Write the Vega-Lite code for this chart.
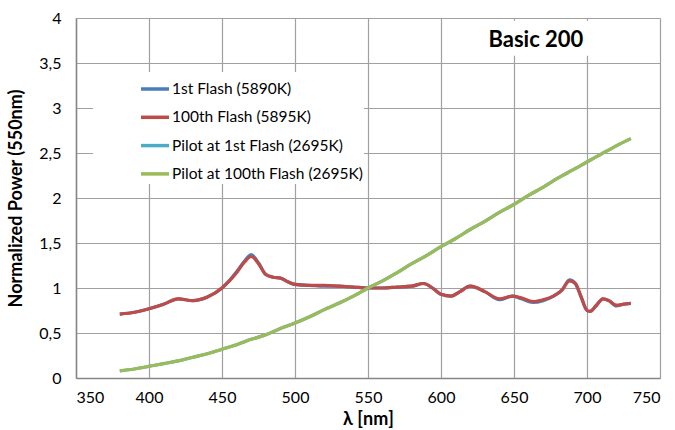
{
  "$schema": "https://vega.github.io/schema/vega-lite/v6.json",
  "width": 584,
  "height": 360,
  "autosize": {"type": "none"},
  "padding": {"left": 76, "top": 18, "right": 15, "bottom": 52},
  "background": "white",
  "config": {
    "font": "Lato",
    "view": {"stroke": null},
    "axis": {
      "labelFont": "Lato", "labelFontSize": 16, "labelColor": "#000",
      "titleFont": "Lato", "titleFontSize": 18, "titleFontWeight": "bold", "titleColor": "#000",
      "gridColor": "#a0a0a0", "gridWidth": 1.2, "domainColor": "#868686", "domainWidth": 1.5, "ticks": false
    }
  },
  "datasets": {
    "spectra": [
      {"l":380,"v":0.71,"s":"1st Flash (5890K)"},{"l":390,"v":0.73,"s":"1st Flash (5890K)"},{"l":400,"v":0.77,"s":"1st Flash (5890K)"},{"l":410,"v":0.82,"s":"1st Flash (5890K)"},{"l":420,"v":0.88,"s":"1st Flash (5890K)"},{"l":430,"v":0.86,"s":"1st Flash (5890K)"},{"l":440,"v":0.9,"s":"1st Flash (5890K)"},{"l":450,"v":1.0,"s":"1st Flash (5890K)"},{"l":460,"v":1.18,"s":"1st Flash (5890K)"},{"l":465,"v":1.29,"s":"1st Flash (5890K)"},{"l":470,"v":1.37,"s":"1st Flash (5890K)"},{"l":475,"v":1.28,"s":"1st Flash (5890K)"},{"l":480,"v":1.15,"s":"1st Flash (5890K)"},{"l":485,"v":1.12,"s":"1st Flash (5890K)"},{"l":490,"v":1.11,"s":"1st Flash (5890K)"},{"l":495,"v":1.07,"s":"1st Flash (5890K)"},{"l":500,"v":1.04,"s":"1st Flash (5890K)"},{"l":510,"v":1.03,"s":"1st Flash (5890K)"},{"l":520,"v":1.02,"s":"1st Flash (5890K)"},{"l":530,"v":1.02,"s":"1st Flash (5890K)"},{"l":540,"v":1.01,"s":"1st Flash (5890K)"},{"l":550,"v":1.0,"s":"1st Flash (5890K)"},{"l":560,"v":1.0,"s":"1st Flash (5890K)"},{"l":570,"v":1.01,"s":"1st Flash (5890K)"},{"l":580,"v":1.02,"s":"1st Flash (5890K)"},{"l":588,"v":1.05,"s":"1st Flash (5890K)"},{"l":595,"v":0.99,"s":"1st Flash (5890K)"},{"l":600,"v":0.93,"s":"1st Flash (5890K)"},{"l":607,"v":0.91,"s":"1st Flash (5890K)"},{"l":613,"v":0.96,"s":"1st Flash (5890K)"},{"l":620,"v":1.02,"s":"1st Flash (5890K)"},{"l":630,"v":0.96,"s":"1st Flash (5890K)"},{"l":640,"v":0.87,"s":"1st Flash (5890K)"},{"l":649,"v":0.91,"s":"1st Flash (5890K)"},{"l":655,"v":0.88,"s":"1st Flash (5890K)"},{"l":663,"v":0.84,"s":"1st Flash (5890K)"},{"l":670,"v":0.86,"s":"1st Flash (5890K)"},{"l":677,"v":0.91,"s":"1st Flash (5890K)"},{"l":683,"v":0.98,"s":"1st Flash (5890K)"},{"l":688,"v":1.09,"s":"1st Flash (5890K)"},{"l":692,"v":1.05,"s":"1st Flash (5890K)"},{"l":696,"v":0.9,"s":"1st Flash (5890K)"},{"l":700,"v":0.75,"s":"1st Flash (5890K)"},{"l":702,"v":0.74,"s":"1st Flash (5890K)"},{"l":706,"v":0.8,"s":"1st Flash (5890K)"},{"l":711,"v":0.88,"s":"1st Flash (5890K)"},{"l":715,"v":0.86,"s":"1st Flash (5890K)"},{"l":720,"v":0.8,"s":"1st Flash (5890K)"},{"l":725,"v":0.82,"s":"1st Flash (5890K)"},{"l":730,"v":0.83,"s":"1st Flash (5890K)"},

      {"l":380,"v":0.71,"s":"100th Flash (5895K)"},{"l":390,"v":0.73,"s":"100th Flash (5895K)"},{"l":400,"v":0.77,"s":"100th Flash (5895K)"},{"l":410,"v":0.82,"s":"100th Flash (5895K)"},{"l":420,"v":0.88,"s":"100th Flash (5895K)"},{"l":430,"v":0.86,"s":"100th Flash (5895K)"},{"l":440,"v":0.9,"s":"100th Flash (5895K)"},{"l":450,"v":1.0,"s":"100th Flash (5895K)"},{"l":460,"v":1.17,"s":"100th Flash (5895K)"},{"l":465,"v":1.28,"s":"100th Flash (5895K)"},{"l":470,"v":1.35,"s":"100th Flash (5895K)"},{"l":475,"v":1.27,"s":"100th Flash (5895K)"},{"l":480,"v":1.15,"s":"100th Flash (5895K)"},{"l":485,"v":1.12,"s":"100th Flash (5895K)"},{"l":490,"v":1.11,"s":"100th Flash (5895K)"},{"l":495,"v":1.07,"s":"100th Flash (5895K)"},{"l":500,"v":1.04,"s":"100th Flash (5895K)"},{"l":510,"v":1.03,"s":"100th Flash (5895K)"},{"l":520,"v":1.03,"s":"100th Flash (5895K)"},{"l":530,"v":1.02,"s":"100th Flash (5895K)"},{"l":540,"v":1.01,"s":"100th Flash (5895K)"},{"l":550,"v":1.0,"s":"100th Flash (5895K)"},{"l":560,"v":1.0,"s":"100th Flash (5895K)"},{"l":570,"v":1.01,"s":"100th Flash (5895K)"},{"l":580,"v":1.02,"s":"100th Flash (5895K)"},{"l":588,"v":1.05,"s":"100th Flash (5895K)"},{"l":595,"v":0.99,"s":"100th Flash (5895K)"},{"l":600,"v":0.93,"s":"100th Flash (5895K)"},{"l":607,"v":0.91,"s":"100th Flash (5895K)"},{"l":613,"v":0.96,"s":"100th Flash (5895K)"},{"l":620,"v":1.02,"s":"100th Flash (5895K)"},{"l":630,"v":0.96,"s":"100th Flash (5895K)"},{"l":640,"v":0.88,"s":"100th Flash (5895K)"},{"l":649,"v":0.91,"s":"100th Flash (5895K)"},{"l":655,"v":0.89,"s":"100th Flash (5895K)"},{"l":663,"v":0.85,"s":"100th Flash (5895K)"},{"l":670,"v":0.87,"s":"100th Flash (5895K)"},{"l":677,"v":0.91,"s":"100th Flash (5895K)"},{"l":683,"v":0.98,"s":"100th Flash (5895K)"},{"l":688,"v":1.08,"s":"100th Flash (5895K)"},{"l":692,"v":1.05,"s":"100th Flash (5895K)"},{"l":696,"v":0.9,"s":"100th Flash (5895K)"},{"l":700,"v":0.75,"s":"100th Flash (5895K)"},{"l":702,"v":0.74,"s":"100th Flash (5895K)"},{"l":706,"v":0.8,"s":"100th Flash (5895K)"},{"l":711,"v":0.88,"s":"100th Flash (5895K)"},{"l":715,"v":0.86,"s":"100th Flash (5895K)"},{"l":720,"v":0.81,"s":"100th Flash (5895K)"},{"l":725,"v":0.82,"s":"100th Flash (5895K)"},{"l":730,"v":0.83,"s":"100th Flash (5895K)"},

      {"l":380,"v":0.08,"s":"Pilot at 1st Flash (2695K)"},{"l":390,"v":0.1,"s":"Pilot at 1st Flash (2695K)"},{"l":400,"v":0.13,"s":"Pilot at 1st Flash (2695K)"},{"l":410,"v":0.16,"s":"Pilot at 1st Flash (2695K)"},{"l":420,"v":0.19,"s":"Pilot at 1st Flash (2695K)"},{"l":430,"v":0.23,"s":"Pilot at 1st Flash (2695K)"},{"l":440,"v":0.27,"s":"Pilot at 1st Flash (2695K)"},{"l":450,"v":0.32,"s":"Pilot at 1st Flash (2695K)"},{"l":460,"v":0.37,"s":"Pilot at 1st Flash (2695K)"},{"l":470,"v":0.43,"s":"Pilot at 1st Flash (2695K)"},{"l":480,"v":0.48,"s":"Pilot at 1st Flash (2695K)"},{"l":490,"v":0.55,"s":"Pilot at 1st Flash (2695K)"},{"l":500,"v":0.61,"s":"Pilot at 1st Flash (2695K)"},{"l":510,"v":0.68,"s":"Pilot at 1st Flash (2695K)"},{"l":520,"v":0.76,"s":"Pilot at 1st Flash (2695K)"},{"l":530,"v":0.83,"s":"Pilot at 1st Flash (2695K)"},{"l":540,"v":0.91,"s":"Pilot at 1st Flash (2695K)"},{"l":550,"v":1.0,"s":"Pilot at 1st Flash (2695K)"},{"l":560,"v":1.08,"s":"Pilot at 1st Flash (2695K)"},{"l":570,"v":1.17,"s":"Pilot at 1st Flash (2695K)"},{"l":580,"v":1.27,"s":"Pilot at 1st Flash (2695K)"},{"l":590,"v":1.36,"s":"Pilot at 1st Flash (2695K)"},{"l":600,"v":1.46,"s":"Pilot at 1st Flash (2695K)"},{"l":610,"v":1.55,"s":"Pilot at 1st Flash (2695K)"},{"l":620,"v":1.65,"s":"Pilot at 1st Flash (2695K)"},{"l":630,"v":1.74,"s":"Pilot at 1st Flash (2695K)"},{"l":640,"v":1.84,"s":"Pilot at 1st Flash (2695K)"},{"l":650,"v":1.93,"s":"Pilot at 1st Flash (2695K)"},{"l":660,"v":2.03,"s":"Pilot at 1st Flash (2695K)"},{"l":670,"v":2.12,"s":"Pilot at 1st Flash (2695K)"},{"l":680,"v":2.22,"s":"Pilot at 1st Flash (2695K)"},{"l":690,"v":2.31,"s":"Pilot at 1st Flash (2695K)"},{"l":700,"v":2.4,"s":"Pilot at 1st Flash (2695K)"},{"l":710,"v":2.49,"s":"Pilot at 1st Flash (2695K)"},{"l":720,"v":2.58,"s":"Pilot at 1st Flash (2695K)"},{"l":730,"v":2.66,"s":"Pilot at 1st Flash (2695K)"},

      {"l":380,"v":0.08,"s":"Pilot at 100th Flash (2695K)"},{"l":390,"v":0.1,"s":"Pilot at 100th Flash (2695K)"},{"l":400,"v":0.13,"s":"Pilot at 100th Flash (2695K)"},{"l":410,"v":0.16,"s":"Pilot at 100th Flash (2695K)"},{"l":420,"v":0.19,"s":"Pilot at 100th Flash (2695K)"},{"l":430,"v":0.23,"s":"Pilot at 100th Flash (2695K)"},{"l":440,"v":0.27,"s":"Pilot at 100th Flash (2695K)"},{"l":450,"v":0.32,"s":"Pilot at 100th Flash (2695K)"},{"l":460,"v":0.37,"s":"Pilot at 100th Flash (2695K)"},{"l":470,"v":0.43,"s":"Pilot at 100th Flash (2695K)"},{"l":480,"v":0.48,"s":"Pilot at 100th Flash (2695K)"},{"l":490,"v":0.55,"s":"Pilot at 100th Flash (2695K)"},{"l":500,"v":0.61,"s":"Pilot at 100th Flash (2695K)"},{"l":510,"v":0.68,"s":"Pilot at 100th Flash (2695K)"},{"l":520,"v":0.76,"s":"Pilot at 100th Flash (2695K)"},{"l":530,"v":0.83,"s":"Pilot at 100th Flash (2695K)"},{"l":540,"v":0.91,"s":"Pilot at 100th Flash (2695K)"},{"l":550,"v":1.0,"s":"Pilot at 100th Flash (2695K)"},{"l":560,"v":1.08,"s":"Pilot at 100th Flash (2695K)"},{"l":570,"v":1.17,"s":"Pilot at 100th Flash (2695K)"},{"l":580,"v":1.27,"s":"Pilot at 100th Flash (2695K)"},{"l":590,"v":1.36,"s":"Pilot at 100th Flash (2695K)"},{"l":600,"v":1.46,"s":"Pilot at 100th Flash (2695K)"},{"l":610,"v":1.55,"s":"Pilot at 100th Flash (2695K)"},{"l":620,"v":1.65,"s":"Pilot at 100th Flash (2695K)"},{"l":630,"v":1.74,"s":"Pilot at 100th Flash (2695K)"},{"l":640,"v":1.84,"s":"Pilot at 100th Flash (2695K)"},{"l":650,"v":1.93,"s":"Pilot at 100th Flash (2695K)"},{"l":660,"v":2.03,"s":"Pilot at 100th Flash (2695K)"},{"l":670,"v":2.12,"s":"Pilot at 100th Flash (2695K)"},{"l":680,"v":2.22,"s":"Pilot at 100th Flash (2695K)"},{"l":690,"v":2.31,"s":"Pilot at 100th Flash (2695K)"},{"l":700,"v":2.4,"s":"Pilot at 100th Flash (2695K)"},{"l":710,"v":2.49,"s":"Pilot at 100th Flash (2695K)"},{"l":720,"v":2.58,"s":"Pilot at 100th Flash (2695K)"},{"l":730,"v":2.66,"s":"Pilot at 100th Flash (2695K)"}
    ],
    "label": [{"x1": 628, "x2": 704, "y1": 3.58, "y2": 3.97, "x": 665, "y": 3.76, "t": "Basic 200"}]
  },
  "layer": [
    {
      "data": {"name": "label"},
      "mark": {"type": "rect", "fill": "white"},
      "encoding": {
        "x": {"field": "x1", "type": "quantitative", "scale": {"domain": [350, 750], "nice": false}},
        "x2": {"field": "x2"},
        "y": {"field": "y1", "type": "quantitative", "scale": {"domain": [0, 4], "nice": false}},
        "y2": {"field": "y2"}
      }
    },
    {
      "data": {"name": "spectra"},
      "mark": {"type": "line", "interpolate": "monotone", "strokeWidth": 3.2},
      "encoding": {
        "x": {
          "field": "l", "type": "quantitative",
          "scale": {"domain": [350, 750], "nice": false},
          "axis": {"values": [350,400,450,500,550,600,650,700,750], "title": "λ [nm]", "labelPadding": 11, "titlePadding": 5}
        },
        "y": {
          "field": "v", "type": "quantitative",
          "scale": {"domain": [0, 4], "nice": false},
          "axis": {"values": [0,0.5,1,1.5,2,2.5,3,3.5,4], "title": "Normalized Power (550nm)", "labelExpr": "replace(format(datum.value, '~g'), '.', ',')", "labelPadding": 15, "titlePadding": 13}
        },
        "color": {
          "field": "s", "type": "nominal",
          "scale": {
            "domain": ["1st Flash (5890K)", "100th Flash (5895K)", "Pilot at 1st Flash (2695K)", "Pilot at 100th Flash (2695K)"],
            "range": ["#4a7ebb", "#be4b48", "#4bacc6", "#9bbb59"]
          },
          "legend": {
            "title": null, "orient": "none", "legendX": 17, "legendY": 54,
            "fillColor": "white", "padding": 1, "symbolOffset": 45,
            "symbolType": "stroke", "symbolSize": 784, "symbolStrokeWidth": 3.5,
            "labelFont": "Lato", "labelFontSize": 15.5, "labelColor": "#000", "labelOffset": 1, "labelLimit": 300,
            "rowPadding": 3.3
          }
        }
      }
    },
    {
      "data": {"name": "label"},
      "mark": {"type": "text", "fontSize": 22, "fontWeight": "bold", "font": "Lato", "color": "#000"},
      "encoding": {
        "x": {"field": "x", "type": "quantitative", "scale": {"domain": [350, 750], "nice": false}},
        "y": {"field": "y", "type": "quantitative", "scale": {"domain": [0, 4], "nice": false}},
        "text": {"field": "t"}
      }
    }
  ]
}
